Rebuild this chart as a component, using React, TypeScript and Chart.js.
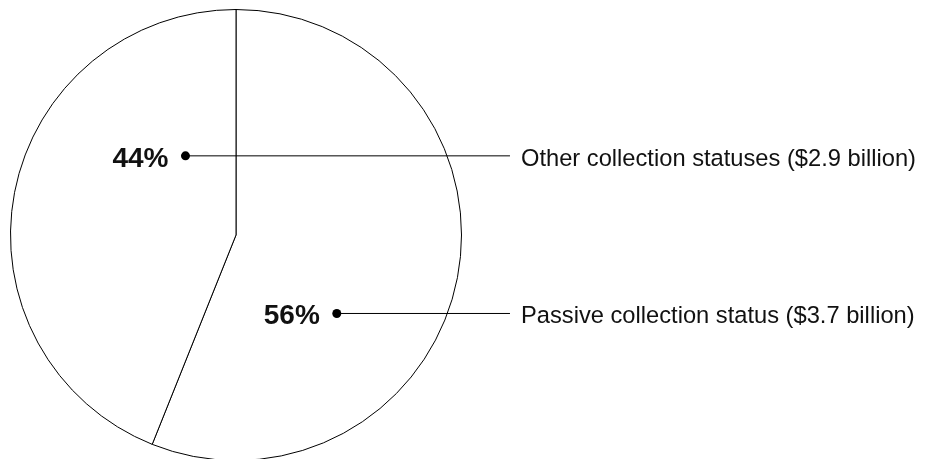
import React, { useEffect, useRef } from "react";
import { Chart, registerables } from "chart.js";

Chart.register(...registerables);

// Data (clockwise from 12 o'clock)
const categories = ["Passive collection status", "Other collection statuses"];
const valuesBillion = [3.7, 2.9];
// Dot anchor positions inside each slice, as fractions of the radius from the centre
const anchorFx = [0.447, -0.224];
const anchorFy = [0.348, -0.351];

const FONT = '"Liberation Sans", Arial, Helvetica, sans-serif';

const calloutPlugin = {
  id: "callouts",
  afterDraw(chart: any) {
    const meta = chart.getDatasetMeta(0);
    if (!meta || !meta.data.length) return;
    const arc: any = meta.data[0];
    const cx = arc.x;
    const cy = arc.y;
    const R = arc.outerRadius;
    const ctx = chart.ctx;
    const total = valuesBillion.reduce((a, b) => a + b, 0);
    const lineEndX = cx + R * 1.215;
    ctx.save();
    valuesBillion.forEach((v, i) => {
      const dx = cx + anchorFx[i] * R;
      const dy = cy + anchorFy[i] * R;
      // leader line
      ctx.strokeStyle = "#000";
      ctx.lineWidth = 1;
      ctx.beginPath();
      ctx.moveTo(dx, dy);
      ctx.lineTo(lineEndX, dy);
      ctx.stroke();
      // dot
      ctx.fillStyle = "#000";
      ctx.beginPath();
      ctx.arc(dx, dy, 4.5, 0, Math.PI * 2);
      ctx.fill();
      // percentage
      const pct = Math.round((v / total) * 100) + "%";
      ctx.font = `bold 28px ${FONT}`;
      ctx.textAlign = "right";
      ctx.textBaseline = "alphabetic";
      ctx.fillStyle = "#111";
      ctx.fillText(pct, dx - 17, dy + 11);
      // label text
      ctx.font = `23.7px ${FONT}`;
      ctx.textAlign = "left";
      ctx.fillText(`${categories[i]} ($${v.toFixed(1)} billion)`, lineEndX + 11, dy + 10);
    });
    ctx.restore();
  },
};

export default function App() {
  const ref = useRef<HTMLCanvasElement | null>(null);
  useEffect(() => {
    if (!ref.current) return;
    const chart = new Chart(ref.current, {
      type: "pie",
      data: {
        labels: categories,
        datasets: [
          {
            data: valuesBillion,
            backgroundColor: "#ffffff",
            borderColor: "#000000",
            borderWidth: 1,
            hoverOffset: 0,
          },
        ],
      },
      options: {
        animation: false,
        responsive: false,
        maintainAspectRatio: false,
        events: [],
        layout: { padding: { left: 10, right: 470, top: 9, bottom: 19 } },
        plugins: {
          legend: { display: false },
          tooltip: { enabled: false },
          title: { display: false },
        },
      },
      plugins: [calloutPlugin],
    });
    return () => chart.destroy();
  }, []);
  return (
    <div
      style={{
        position: "fixed",
        left: 0,
        top: 0,
        width: 932,
        height: 459,
        overflow: "hidden",
        background: "#fff",
      }}
    >
      <canvas ref={ref} width={932} height={480} style={{ display: "block" }} />
    </div>
  );
}
